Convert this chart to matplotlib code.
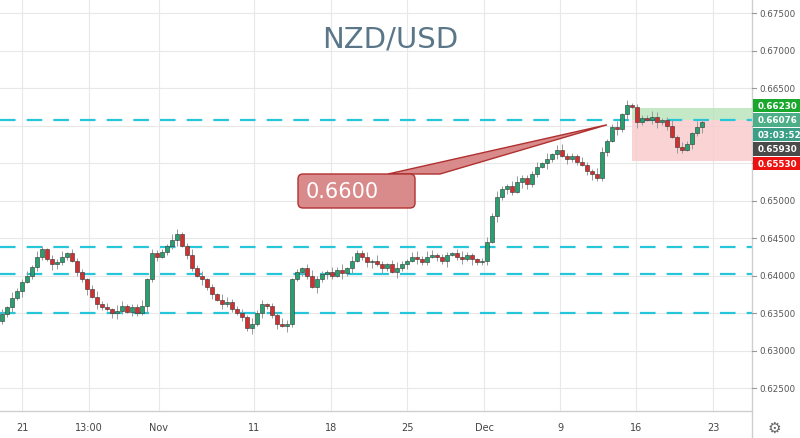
import numpy as np
import matplotlib.pyplot as plt
from matplotlib.patches import Rectangle, Polygon, FancyBboxPatch

# ---- data ----
closes = [
    0.6349, 0.6358, 0.6370, 0.6380, 0.6392, 0.6400, 0.6412, 0.6425, 0.6435, 0.6422,
    0.6415, 0.6418, 0.6425, 0.6430, 0.6420, 0.6405, 0.6395, 0.6382, 0.6372, 0.6362,
    0.6358, 0.6355, 0.6350, 0.6353, 0.6360, 0.6352, 0.6358, 0.6350, 0.6360, 0.6395,
    0.6430, 0.6425, 0.6432, 0.6440, 0.6448, 0.6456, 0.6440, 0.6428, 0.6410, 0.6400,
    0.6395, 0.6385, 0.6375, 0.6368, 0.6362, 0.6365, 0.6355, 0.6350, 0.6345, 0.6330,
    0.6335, 0.6350, 0.6362, 0.6360, 0.6348, 0.6335, 0.6333, 0.6335, 0.6395, 0.6405,
    0.6410, 0.6400, 0.6385, 0.6395, 0.6402, 0.6405, 0.6400, 0.6408, 0.6404, 0.6410,
    0.6420, 0.6430, 0.6425, 0.6418, 0.6420, 0.6415, 0.6410, 0.6415, 0.6405, 0.6410,
    0.6415, 0.6420, 0.6425, 0.6422, 0.6418, 0.6425, 0.6428, 0.6425, 0.6420, 0.6428,
    0.6430, 0.6425, 0.6422, 0.6428, 0.6422, 0.6418, 0.6420, 0.6445, 0.6480, 0.6505,
    0.6515, 0.6520, 0.6512, 0.6525, 0.6530, 0.6522, 0.6535, 0.6545, 0.6550, 0.6555,
    0.6562, 0.6568, 0.6560, 0.6555, 0.6560, 0.6552, 0.6548, 0.6540, 0.6535, 0.6530,
    0.6565, 0.6580, 0.6598, 0.6595, 0.6615, 0.6628, 0.6625, 0.6605, 0.6610, 0.6608,
    0.6612, 0.6605, 0.6608, 0.6600, 0.6585, 0.6572, 0.6568, 0.6575, 0.6590, 0.6598,
    0.6605,
]
first_open = 0.6340
# wick lengths in 2-pip units (upper, lower), one digit per candle
upper_wicks = "3142231421324132213423143122413221431242312143223142312243121342213241322314213421342431221342112324213422231413422132143124131222431241321421432"
lower_wicks = "2231412321432213241321342132142312241321423132213241322314213214232142312341321423132213241231422314232143221423132213422314231421342314213241234"

levels = [0.66076, 0.6438, 0.6402, 0.6350]
tp, entry, sl = 0.6623, 0.66076, 0.6553
pos_start = 126
last_price = 0.6593

xtick_pos = [4, 17.4, 31.4, 50.4, 65.8, 81, 96.4, 111.6, 126.8, 142.2]
xtick_labels = ["21", "13:00", "Nov", "11", "18", "25", "Dec", "9", "16", "23"]
yticks = [0.625, 0.630, 0.635, 0.640, 0.645, 0.650, 0.655, 0.660, 0.665, 0.670, 0.675]

UP, DOWN = "#26a06e", "#d32f2f"
n = len(closes)
opens = [first_open] + closes[:-1]

fig = plt.figure(figsize=(8, 4.39), dpi=100, facecolor="white")
ax = fig.add_axes([0, 27 / 439, 752 / 800, 412 / 439])
ymin, ymax = 0.62194, 0.67687
ax.set_xlim(-0.4, 150)
ax.set_ylim(ymin, ymax)

for x in xtick_pos:
    ax.axvline(x, color="#e8e8e8", lw=0.8, zorder=0)
for y in yticks:
    ax.axhline(y, color="#e8e8e8", lw=0.8, zorder=0)

for lv in levels:
    ax.axhline(lv, color="#26c6da", lw=1.6, dashes=(7, 5), zorder=2)

# position box
ax.add_patch(Rectangle((pos_start, entry), 150 - pos_start, tp - entry,
                       facecolor="#b7e4b9", alpha=0.8, edgecolor="none", zorder=1))
ax.add_patch(Rectangle((pos_start, sl), 150 - pos_start, entry - sl,
                       facecolor="#f9caca", alpha=0.8, edgecolor="none", zorder=1))

for i in range(n):
    o, c = opens[i], closes[i]
    hi = max(o, c) + int(upper_wicks[i]) * 0.0002
    lo = min(o, c) - int(lower_wicks[i]) * 0.0002
    col = UP if c >= o else DOWN
    ax.vlines(i, lo, hi, color="#999999", lw=0.7, zorder=3)
    ax.add_patch(Rectangle((i - 0.35, min(o, c)), 0.7, max(abs(c - o), 0.00008),
                           facecolor=col, edgecolor="#333333", lw=0.4, zorder=4))

ax.set_xticks([])
ax.set_yticks([])
for s in ax.spines.values():
    s.set_visible(False)

# overlay in pixel coordinates for axis labels and annotations
ov = fig.add_axes([0, 0, 1, 1], facecolor="none")
ov.set_xlim(0, 800)
ov.set_ylim(439, 0)
ov.axis("off")

def py(p):
    return 412 - (p - ymin) / (ymax - ymin) * 412

def px(i):
    return (i + 0.4) / 150.4 * 752

ov.plot([752, 752], [0, 439], color="#cfcfcf", lw=1)
ov.plot([0, 752], [412, 412], color="#cfcfcf", lw=1)
tag_top, tag_bot = py(entry) - 16, py(sl) + 8
for y in yticks:
    ov.plot([752, 756], [py(y), py(y)], color="#999999", lw=0.8)
    if not (tag_top < py(y) < tag_bot):
        ov.text(759, py(y), f"{y:.5f}", fontsize=6.3, color="#555555", va="center")
for x, lab in zip(xtick_pos, xtick_labels):
    ov.text(px(x), 428, lab, fontsize=7, color="#444444", ha="center", va="center")
ov.text(774, 428, "\u2699", fontsize=11, color="#666666", ha="center", va="center")

def price_tag(y, text, color):
    ov.add_patch(Rectangle((753, y - 6.5), 47, 13.5, facecolor=color, edgecolor="none", zorder=8))
    ov.text(758, y, text, fontsize=6.3, color="white", va="center", fontweight="bold", zorder=9)

e = py(entry)
price_tag(e - 14.5, f"{tp:.5f}", "#1aa82c")
price_tag(e, f"{entry:.5f}", "#4caf88")
price_tag(e + 14.5, "03:03:52", "#3a9f86")
price_tag(e + 29, f"{last_price:.5f}", "#4a4a4a")
price_tag(e + 43.5, f"{sl:.5f}", "#ee1111")

ov.text(390, 40, "NZD/USD", fontsize=21, color="#5b7688", ha="center", va="center")

# callout
tip = (px(121), py(0.6601))
ov.add_patch(Polygon([(388, 175), (440, 175), tip], closed=True,
                     facecolor="#d98a8a", edgecolor="#b03030", lw=1, zorder=5))
ov.add_patch(FancyBboxPatch((298, 175), 117, 34, boxstyle="round,pad=0,rounding_size=5",
                            facecolor="#d98a8a", edgecolor="#b03030", lw=1, zorder=6))
ov.text(306, 192, "0.6600", fontsize=15, color="white", va="center", zorder=7)

fig.savefig("out.png", dpi=100, facecolor="white")
